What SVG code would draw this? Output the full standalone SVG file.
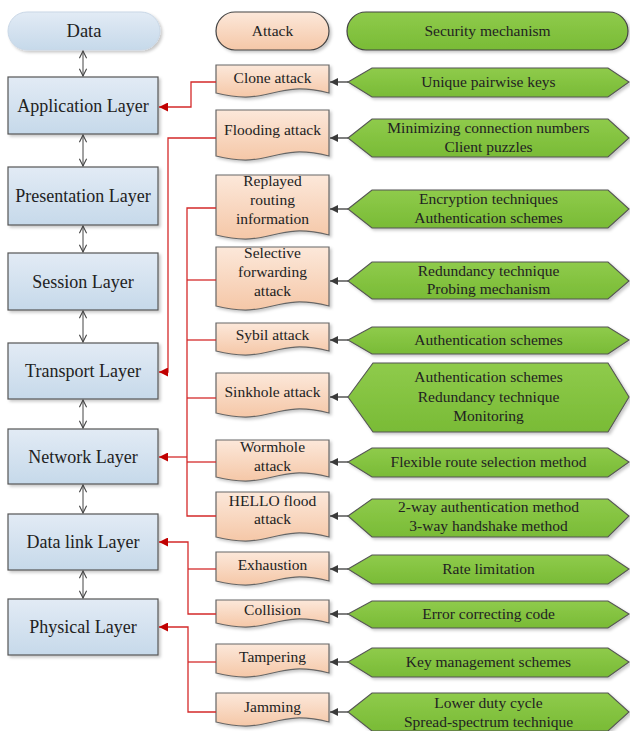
<svg xmlns="http://www.w3.org/2000/svg" width="630" height="731" viewBox="0 0 630 731">
<defs>
<linearGradient id="gBlue" x1="0" y1="0" x2="0" y2="1"><stop offset="0" stop-color="#e2ebf5"/><stop offset="1" stop-color="#c6d9ea"/></linearGradient>
<linearGradient id="gPeach" x1="0" y1="0" x2="0" y2="1"><stop offset="0" stop-color="#fce8da"/><stop offset="1" stop-color="#f5c7a7"/></linearGradient>
<linearGradient id="gGreen" x1="0" y1="0" x2="0" y2="1"><stop offset="0" stop-color="#8fcb4b"/><stop offset="1" stop-color="#79bb36"/></linearGradient>
<filter id="sh" x="-10%" y="-10%" width="130%" height="140%"><feDropShadow dx="2" dy="2" stdDeviation="1.5" flood-color="#000" flood-opacity="0.22"/></filter>
<marker id="mOpen" viewBox="0 0 10 10" refX="9" refY="5" markerWidth="9" markerHeight="9" markerUnits="userSpaceOnUse" orient="auto-start-reverse"><path d="M1,1 L9,5 L1,9" fill="none" stroke="#444" stroke-width="1.2"/></marker>
<marker id="mRed" viewBox="0 0 10 10" refX="10" refY="5" markerWidth="10" markerHeight="9" markerUnits="userSpaceOnUse" orient="auto"><path d="M0,0 L10,5 L0,10 Z" fill="#c00000"/></marker>
<marker id="mBlk" viewBox="0 0 10 10" refX="10" refY="5" markerWidth="9" markerHeight="8" markerUnits="userSpaceOnUse" orient="auto"><path d="M0,0 L10,5 L0,10 Z" fill="#3a3a3a"/></marker>
</defs>
<style>
text{font-family:"Liberation Serif","Times New Roman",serif;fill:#222;text-anchor:middle}
.lay rect{fill:url(#gBlue);stroke:#555;stroke-width:1.2;filter:url(#sh)}
.lay text{font-size:18px}
.att path{fill:url(#gPeach);stroke:#666;stroke-width:1.2;filter:url(#sh)}
.att text,.mec text,.leg text{font-size:15.5px}
.mec path{fill:url(#gGreen);stroke:#555;stroke-width:1.1;filter:url(#sh)}
.dbl{stroke:#444;stroke-width:1;fill:none;marker-start:url(#mOpen);marker-end:url(#mOpen)}
.red{stroke:#d42a2a;stroke-width:1.3;fill:none}
.reda{stroke:#d42a2a;stroke-width:1.3;fill:none;marker-end:url(#mRed)}
.blk{stroke:#3a3a3a;stroke-width:1.3;fill:none;marker-end:url(#mBlk)}
</style>

<!-- legend pills -->
<g id="legend-data" class="leg"><rect x="8" y="12" width="152" height="38" rx="19" fill="url(#gBlue)" stroke="#c9d7e6" stroke-width="1" filter="url(#sh)"/><text x="84" y="36.5" style="font-size:18.5px">Data</text></g>
<g id="legend-attack" class="leg"><rect x="216" y="12" width="113" height="38" rx="19" fill="url(#gPeach)" stroke="#444" stroke-width="1.2" filter="url(#sh)"/><text x="272.5" y="35.5">Attack</text></g>
<g id="legend-security" class="leg"><rect x="347" y="12" width="281" height="38" rx="19" fill="url(#gGreen)" stroke="#444" stroke-width="1.2" filter="url(#sh)"/><text x="487.5" y="35.5">Security mechanism</text></g>

<!-- layers -->
<g id="layer-application" class="lay"><rect x="8" y="77" width="150" height="57"/><text x="83" y="111.5">Application Layer</text></g>
<g id="layer-presentation" class="lay"><rect x="8" y="167" width="150" height="58"/><text x="83" y="202">Presentation Layer</text></g>
<g id="layer-session" class="lay"><rect x="8" y="253" width="150" height="57"/><text x="83" y="287.5">Session Layer</text></g>
<g id="layer-transport" class="lay"><rect x="8" y="343" width="150" height="56"/><text x="83" y="377">Transport Layer</text></g>
<g id="layer-network" class="lay"><rect x="8" y="429" width="150" height="55"/><text x="83" y="462.5">Network Layer</text></g>
<g id="layer-datalink" class="lay"><rect x="8" y="514" width="150" height="56"/><text x="83" y="548">Data link Layer</text></g>
<g id="layer-physical" class="lay"><rect x="8" y="599" width="150" height="56"/><text x="83" y="633">Physical Layer</text></g>

<!-- attacks -->
<g id="att-clone" class="att"><path d="M216,65 H329 V93 C272.5,79 272.5,107 216,93 Z"/><text x="272.5" y="83">Clone attack</text></g>
<g id="att-flooding" class="att"><path d="M216,110 H329 V156 C272.5,142 272.5,170 216,156 Z"/><text x="272.5" y="135">Flooding attack</text></g>
<g id="att-replayed" class="att"><path d="M216,175 H329 V235 C272.5,221 272.5,249 216,235 Z"/><text x="272.5" y="186">Replayed</text><text x="272.5" y="205">routing</text><text x="272.5" y="224">information</text></g>
<g id="att-selective" class="att"><path d="M216,247 H329 V306 C272.5,292 272.5,320 216,306 Z"/><text x="272.5" y="258">Selective</text><text x="272.5" y="277">forwarding</text><text x="272.5" y="296">attack</text></g>
<g id="att-sybil" class="att"><path d="M216,323 H329 V351 C272.5,337 272.5,365 216,351 Z"/><text x="272.5" y="340">Sybil attack</text></g>
<g id="att-sinkhole" class="att"><path d="M216,373 H329 V413 C272.5,399 272.5,427 216,413 Z"/><text x="272.5" y="397">Sinkhole attack</text></g>
<g id="att-wormhole" class="att"><path d="M216,440 H329 V477 C272.5,463 272.5,491 216,477 Z"/><text x="272.5" y="452">Wormhole</text><text x="272.5" y="471">attack</text></g>
<g id="att-hello" class="att"><path d="M216,492 H329 V537 C272.5,523 272.5,551 216,537 Z"/><text x="272.5" y="506">HELLO flood</text><text x="272.5" y="524">attack</text></g>
<g id="att-exhaustion" class="att"><path d="M216,552 H329 V581 C272.5,567 272.5,595 216,581 Z"/><text x="272.5" y="570">Exhaustion</text></g>
<g id="att-collision" class="att"><path d="M216,600 H329 V623 C272.5,609 272.5,637 216,623 Z"/><text x="272.5" y="615">Collision</text></g>
<g id="att-tampering" class="att"><path d="M216,644 H329 V673 C272.5,659 272.5,687 216,673 Z"/><text x="272.5" y="662">Tampering</text></g>
<g id="att-jamming" class="att"><path d="M216,693 H329 V722 C272.5,708 272.5,736 216,722 Z"/><text x="272.5" y="712">Jamming</text></g>

<!-- mechanisms -->
<g id="mec-1" class="mec"><path d="M348,82 L372,68 H608 L629,82 L608,97 H372 Z"/><text x="488.5" y="87">Unique pairwise keys</text></g>
<g id="mec-2" class="mec"><path d="M348,138 L372,119 H608 L629,138 L608,157 H372 Z"/><text x="488.5" y="133">Minimizing connection numbers</text><text x="488.5" y="152">Client puzzles</text></g>
<g id="mec-3" class="mec"><path d="M348,209 L372,190 H608 L629,209 L608,228 H372 Z"/><text x="488.5" y="204">Encryption techniques</text><text x="488.5" y="223">Authentication schemes</text></g>
<g id="mec-4" class="mec"><path d="M348,281 L372,262 H608 L629,281 L608,299 H372 Z"/><text x="488.5" y="276">Redundancy technique</text><text x="488.5" y="294">Probing mechanism</text></g>
<g id="mec-5" class="mec"><path d="M348,340 L372,327 H608 L629,340 L608,354 H372 Z"/><text x="488.5" y="345">Authentication schemes</text></g>
<g id="mec-6" class="mec"><path d="M348,397 L373,363 H608 L629,397 L608,432 H373 Z"/><text x="488.5" y="382">Authentication schemes</text><text x="488.5" y="402">Redundancy technique</text><text x="488.5" y="421">Monitoring</text></g>
<g id="mec-7" class="mec"><path d="M348,462 L372,448 H608 L629,462 L608,477 H372 Z"/><text x="488.5" y="467">Flexible route selection method</text></g>
<g id="mec-8" class="mec"><path d="M348,516 L372,499 H608 L629,516 L608,537 H372 Z"/><text x="488.5" y="512">2-way authentication method</text><text x="488.5" y="531">3-way handshake method</text></g>
<g id="mec-9" class="mec"><path d="M348,569 L372,555 H608 L629,569 L608,584 H372 Z"/><text x="488.5" y="574">Rate limitation</text></g>
<g id="mec-10" class="mec"><path d="M348,614 L372,601 H608 L629,614 L608,628 H372 Z"/><text x="488.5" y="619">Error correcting code</text></g>
<g id="mec-11" class="mec"><path d="M348,662 L372,648 H608 L629,662 L608,677 H372 Z"/><text x="488.5" y="667">Key management schemes</text></g>
<g id="mec-12" class="mec"><path d="M348,712 L372,693 H608 L629,712 L608,731 H372 Z"/><text x="488.5" y="708">Lower duty cycle</text><text x="488.5" y="727">Spread-spectrum technique</text></g>

<!-- connectors -->
<g id="connectors">
<line class="dbl" x1="83" y1="51" x2="83" y2="76"/>
<line class="dbl" x1="83" y1="135" x2="83" y2="166"/>
<line class="dbl" x1="83" y1="226" x2="83" y2="252"/>
<line class="dbl" x1="83" y1="311" x2="83" y2="342"/>
<line class="dbl" x1="83" y1="400" x2="83" y2="428"/>
<line class="dbl" x1="83" y1="485" x2="83" y2="513"/>
<line class="dbl" x1="83" y1="571" x2="83" y2="598"/>

<polyline class="reda" points="216,82 191,82 191,107 159,107"/>
<polyline class="reda" points="216,138 168,138 168,372 159,372"/>
<polyline class="red" points="216,208 187,208 187,516 216,516"/>
<line class="red" x1="187" y1="280" x2="216" y2="280"/>
<line class="red" x1="187" y1="340" x2="216" y2="340"/>
<line class="red" x1="187" y1="398" x2="216" y2="398"/>
<line class="red" x1="187" y1="462" x2="216" y2="462"/>
<line class="reda" x1="187" y1="457" x2="159" y2="457"/>
<polyline class="reda" points="216,614 188,614 188,542 159,542"/>
<line class="red" x1="188" y1="569" x2="216" y2="569"/>
<polyline class="reda" points="216,712 188,712 188,627 159,627"/>
<line class="red" x1="188" y1="662" x2="216" y2="662"/>

<line class="blk" x1="348" y1="82" x2="330" y2="82"/>
<line class="blk" x1="348" y1="138" x2="330" y2="138"/>
<line class="blk" x1="348" y1="209" x2="330" y2="209"/>
<line class="blk" x1="348" y1="281" x2="330" y2="281"/>
<line class="blk" x1="348" y1="340" x2="330" y2="340"/>
<line class="blk" x1="348" y1="397" x2="330" y2="397"/>
<line class="blk" x1="348" y1="462" x2="330" y2="462"/>
<line class="blk" x1="348" y1="516" x2="330" y2="516"/>
<line class="blk" x1="348" y1="569" x2="330" y2="569"/>
<line class="blk" x1="348" y1="614" x2="330" y2="614"/>
<line class="blk" x1="348" y1="662" x2="330" y2="662"/>
<line class="blk" x1="348" y1="712" x2="330" y2="712"/>
</g>
</svg>
